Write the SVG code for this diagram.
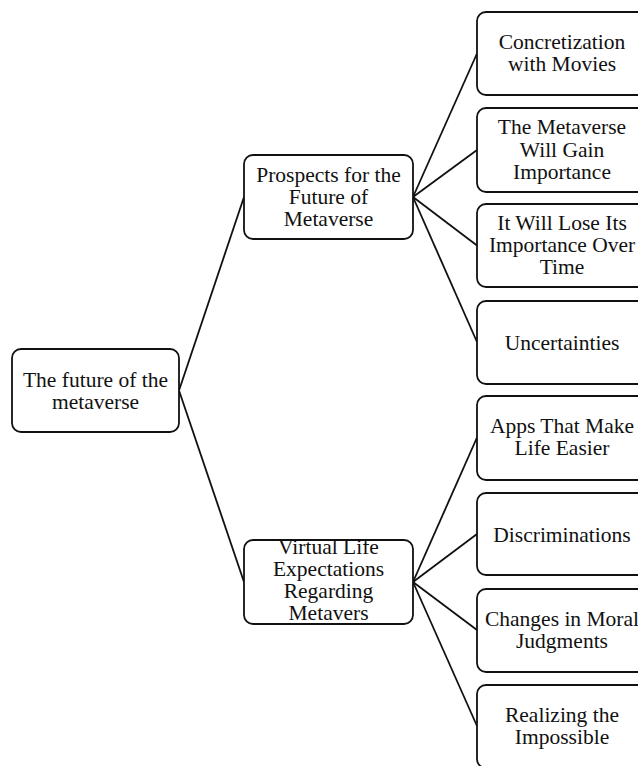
<svg xmlns="http://www.w3.org/2000/svg" width="638" height="766" viewBox="0 0 638 766">
<style>
.box{fill:#fff;stroke:#111;stroke-width:1.8}
.t{font-family:"Liberation Serif","Times New Roman",serif;font-size:21.5px;fill:#111;text-anchor:middle}
.c{stroke:#111;stroke-width:1.8;fill:none}
</style>
<rect width="638" height="766" fill="#fff"/>
<g id="connectors">
<line class="c" x1="179" y1="390.5" x2="244" y2="197"/>
<line class="c" x1="179" y1="390.5" x2="244" y2="582"/>
<line class="c" x1="413" y1="197" x2="477" y2="53.5"/>
<line class="c" x1="413" y1="197" x2="477" y2="150"/>
<line class="c" x1="413" y1="197" x2="477" y2="245.5"/>
<line class="c" x1="413" y1="197" x2="477" y2="342"/>
<line class="c" x1="413" y1="582" x2="477" y2="437.5"/>
<line class="c" x1="413" y1="582" x2="477" y2="534"/>
<line class="c" x1="413" y1="582" x2="477" y2="630"/>
<line class="c" x1="413" y1="582" x2="477" y2="726"/>
</g>
<g id="root">
<rect class="box" x="12" y="349" width="167" height="83" rx="9"/>
<text class="t" x="95.5" y="386.5">The future of the</text>
<text class="t" x="95.5" y="408.5">metaverse</text>
</g>
<g id="prospects">
<rect class="box" x="244" y="155" width="169" height="84" rx="9"/>
<text class="t" x="328.5" y="182">Prospects for the</text>
<text class="t" x="328.5" y="204">Future of</text>
<text class="t" x="328.5" y="226">Metaverse</text>
</g>
<g id="virtual">
<rect class="box" x="244" y="540" width="169" height="84" rx="9"/>
<text class="t" x="328.5" y="554">Virtual Life</text>
<text class="t" x="328.5" y="576">Expectations</text>
<text class="t" x="328.5" y="598">Regarding</text>
<text class="t" x="328.5" y="620">Metavers</text>
</g>
<g id="movies">
<rect class="box" x="477" y="12" width="175" height="83" rx="9"/>
<text class="t" x="562" y="49">Concretization</text>
<text class="t" x="562" y="71">with Movies</text>
</g>
<g id="gain">
<rect class="box" x="477" y="108" width="175" height="84" rx="9"/>
<text class="t" x="562" y="134">The Metaverse</text>
<text class="t" x="562" y="156.5">Will Gain</text>
<text class="t" x="562" y="178.5">Importance</text>
</g>
<g id="lose">
<rect class="box" x="477" y="204" width="175" height="83" rx="9"/>
<text class="t" x="562" y="230">It Will Lose Its</text>
<text class="t" x="562" y="252">Importance Over</text>
<text class="t" x="562" y="274">Time</text>
</g>
<g id="uncertainties">
<rect class="box" x="477" y="301" width="175" height="83" rx="9"/>
<text class="t" x="562" y="349.5">Uncertainties</text>
</g>
<g id="apps">
<rect class="box" x="477" y="396" width="175" height="84" rx="9"/>
<text class="t" x="562" y="433">Apps That Make</text>
<text class="t" x="562" y="455">Life Easier</text>
</g>
<g id="discriminations">
<rect class="box" x="477" y="493" width="175" height="82" rx="9"/>
<text class="t" x="562" y="541.5">Discriminations</text>
</g>
<g id="moral">
<rect class="box" x="477" y="589" width="175" height="83" rx="9"/>
<text class="t" x="562" y="626">Changes in Moral</text>
<text class="t" x="562" y="648">Judgments</text>
</g>
<g id="impossible">
<rect class="box" x="477" y="685" width="175" height="83" rx="9"/>
<text class="t" x="562" y="722">Realizing the</text>
<text class="t" x="562" y="744">Impossible</text>
</g>
</svg>
